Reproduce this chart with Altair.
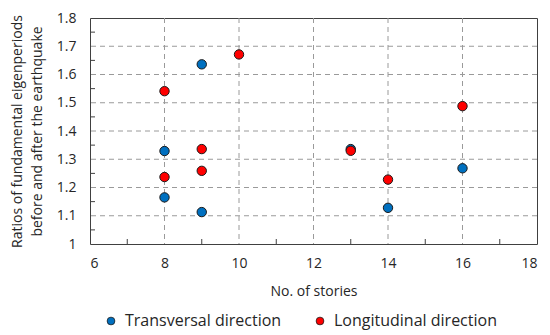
import altair as alt
import pandas as pd

series = ["Transversal direction", "Longitudinal direction"]
stories_t = [8, 8, 9, 9, 13, 14, 16]
ratio_t = [1.329, 1.165, 1.636, 1.113, 1.336, 1.128, 1.268]
stories_l = [8, 8, 9, 9, 10, 13, 14, 16]
ratio_l = [1.541, 1.237, 1.336, 1.259, 1.671, 1.330, 1.228, 1.488]

x_ticks = [6, 8, 10, 12, 14, 16, 18]
y_ticks = [1.0, 1.1, 1.2, 1.3, 1.4, 1.5, 1.6, 1.7, 1.8]
x_grid = [8, 10, 12, 14, 16]
y_grid = [1.1, 1.2, 1.3, 1.4, 1.5, 1.6, 1.7]
x_minor = [7, 9, 11, 13, 15, 17]
y_minor = [1.05, 1.15, 1.25, 1.35, 1.45, 1.55, 1.65, 1.75]

df = pd.DataFrame(
    {"stories": stories_t + stories_l,
     "ratio": ratio_t + ratio_l,
     "series": [series[0]] * len(stories_t) + [series[1]] * len(stories_l),
     "order": [0] * len(stories_t) + [1] * len(stories_l)}
)

FONT = "Open Sans"
TXT = "#262626"
H = 226
xs = alt.Scale(domain=[6, 18], nice=False, zero=False)
ys = alt.Scale(domain=[1.0, 1.8], nice=False, zero=False)

XAX = alt.Axis(values=x_ticks, title="No. of stories", grid=False,
               ticks=False, domain=False, labelPadding=12,
               titlePadding=14, format="d", labelOverlap=False)
YAX = alt.Axis(values=y_ticks, format="~g", grid=False, ticks=False,
               domain=False, labelPadding=14, titlePadding=12,
               labelOverlap=False,
               title=["Ratios of fundamental eigenperiods",
                      "before and after the earthquake"],
               titleLineHeight=20)

gx = alt.Chart(pd.DataFrame({"v": x_grid})).mark_rule(
    color="#9a9a9a", strokeDash=[5, 4], strokeWidth=1
).encode(x=alt.X("v:Q", scale=xs, axis=XAX))
gy = alt.Chart(pd.DataFrame({"v": y_grid})).mark_rule(
    color="#9a9a9a", strokeDash=[5, 4], strokeWidth=1
).encode(y=alt.Y("v:Q", scale=ys, axis=YAX))

mx = alt.Chart(pd.DataFrame({"v": x_minor})).mark_rule(
    color="#404040", strokeWidth=1
).encode(x=alt.X("v:Q", scale=xs, axis=XAX), y=alt.value(H), y2=alt.value(H - 5))
my = alt.Chart(pd.DataFrame({"v": y_minor})).mark_rule(
    color="#404040", strokeWidth=1
).encode(y=alt.Y("v:Q", scale=ys, axis=YAX), x=alt.value(0), x2=alt.value(5))

pts = alt.Chart(df).mark_circle(
    size=88, opacity=1, stroke="#1a1a1a", strokeWidth=1
).encode(
    x=alt.X("stories:Q", scale=xs, axis=XAX),
    y=alt.Y("ratio:Q", scale=ys, axis=YAX),
    color=alt.Color("series:N",
                    scale=alt.Scale(domain=series, range=["#0070C0", "#FF0000"]),
                    legend=alt.Legend(title=None, orient="none", direction="horizontal",
                                      legendX=13, legendY=295, symbolType="circle",
                                      symbolSize=60, symbolStrokeColor="#1a1a1a",
                                      symbolStrokeWidth=0.8, labelFontSize=16,
                                      columnPadding=30, labelOffset=6,
                                      labelLimit=300)),
    order=alt.Order("order:Q"),
)

chart = alt.layer(gx, gy, mx, my, pts).properties(
    width=447, height=H,
    autosize=alt.AutoSizeParams(type="none"),
    padding={"left": 82, "top": 10, "right": 5, "bottom": 91},
).configure_view(stroke="#404040", strokeWidth=1).configure_axis(
    labelFont=FONT, titleFont=FONT, labelFontSize=14, titleFontSize=14,
    labelColor=TXT, titleColor=TXT, titleFontWeight="normal"
).configure_legend(labelFont=FONT, labelColor=TXT)

chart.save("out.html", embed_options={"renderer": "svg", "actions": False})
